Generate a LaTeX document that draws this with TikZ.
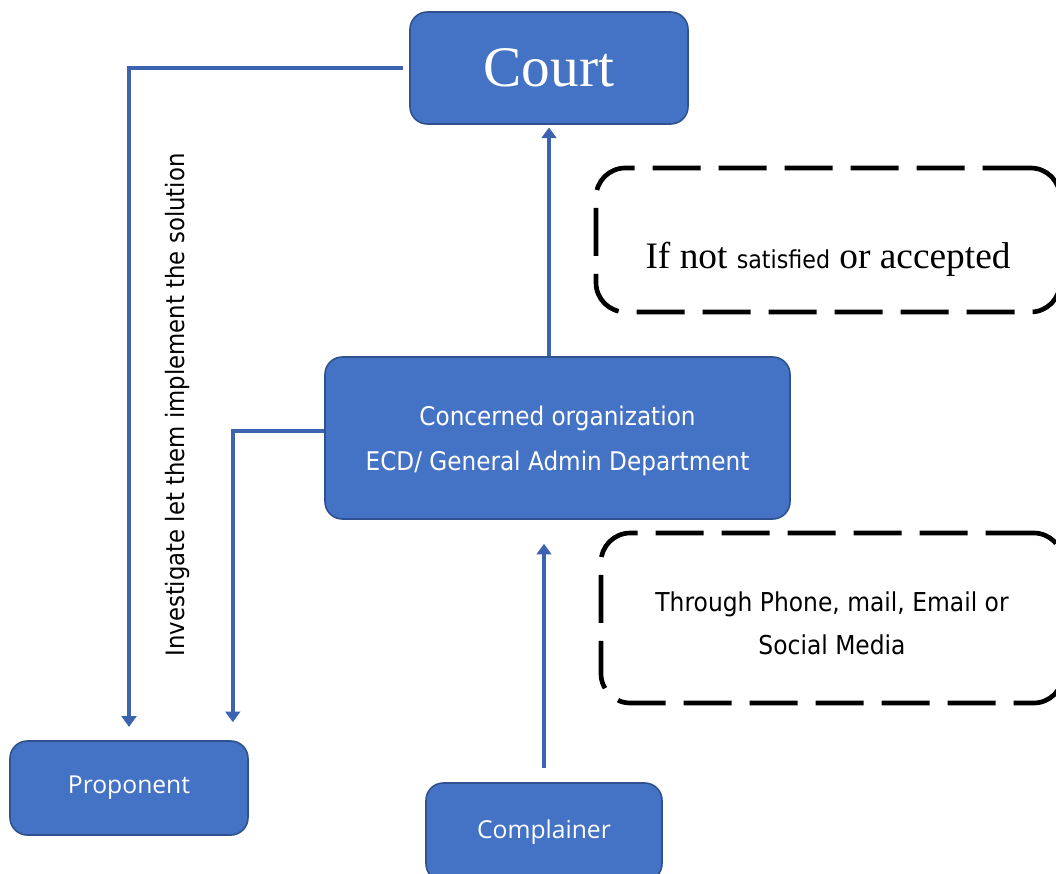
\documentclass[tikz,border=0pt]{standalone}
\usepackage{fontspec}
\setmainfont{Liberation Serif}
\newfontfamily\tahoma[FakeStretch=0.9]{DejaVu Sans}
\newfontfamily\segoe{Open Sans}
\usetikzlibrary{arrows.meta,positioning}

\definecolor{boxblue}{HTML}{4472C4}
\definecolor{boxedge}{HTML}{2F528F}
\definecolor{linkblue}{HTML}{3B63B0}

\begin{document}
\begin{tikzpicture}[x=0.75pt,y=-0.75pt,
    block/.style={rectangle, rounded corners=13pt, fill=boxblue, draw=boxedge,
        line width=1.2pt, text=white, align=center, inner sep=0pt},
    note/.style={rectangle, rounded corners=22pt, draw=black, line width=3.5pt,
        dash pattern=on 36pt off 13.5pt, align=center, inner sep=0pt},
    link/.style={draw=linkblue, line width=3pt, -{Triangle[width=11pt,length=8pt]}}]
    \useasboundingbox (0,0) rectangle (1056,874);
    \clip (0,0) rectangle (1056,874);
    % main boxes
    \node[block, minimum width=208.5pt, minimum height=84pt,
        font=\fontsize{43}{48}\selectfont] (court) at (549,68) {Court};
    \node[block, minimum width=348.75pt, minimum height=121.5pt,
        font=\tahoma\fontsize{19.3}{34}\selectfont] (org) at (557.5,438)
        {\raisebox{-6pt}[0pt][0pt]{\begin{tabular}{@{}c@{}}Concerned organization\\ECD/ General Admin Department\end{tabular}}};
    \node[block, minimum width=178.5pt, minimum height=70.5pt,
        font=\segoe\fontsize{18.5}{22}\selectfont] (prop) at (129,788) {Proponent};
    \node[block, minimum width=177pt, minimum height=73.5pt,
        font=\segoe\fontsize{18.5}{22}\selectfont] (comp) at (544,832) {Complainer};
    % dashed notes
    \node[note, minimum width=348pt, minimum height=108pt,
        font=\fontsize{28}{32}\selectfont] (notsat) at (828,240)
        {\raisebox{-21pt}[0pt][0pt]{If not {\tahoma\fontsize{18.5}{22}\selectfont satisfied} or accepted}};
    \node[note, minimum width=346.5pt, minimum height=127.5pt,
        font=\tahoma\fontsize{19.5}{32.5}\selectfont] (channel) at (832,618)
        {\raisebox{-10pt}[0pt][0pt]{\begin{tabular}{@{}c@{}}Through Phone, mail, Email or\\Social Media\end{tabular}}};
    \node[rotate=90, font=\tahoma\fontsize{19}{22}\selectfont] (investigate) at (178,405)
        {Investigate let them implement the solution};
    % connectors
    \draw[link, shorten >=2pt] (org.north -| court.south) -- (court.south);
    \draw[link, shorten <=11pt, shorten >=18pt] (comp.north) -- (comp.north |- org.south);
    \draw[link, shorten <=5pt, shorten >=10pt] (court.west) -| (prop.north);
    \draw[link, shorten >=13.5pt] ([yshift=5pt]org.west) -| ([xshift=-12pt]prop.north east);
\end{tikzpicture}
\end{document}
